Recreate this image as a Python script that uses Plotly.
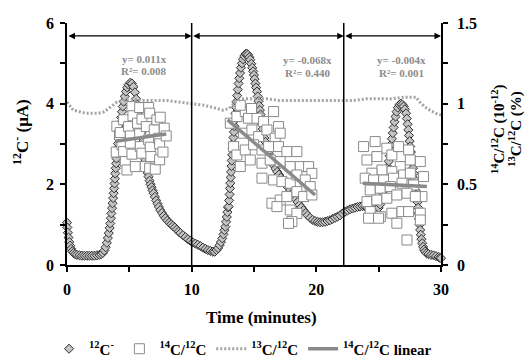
import plotly.graph_objects as go

# ---------------- data ----------------
# 12C- beam current (uA), left axis
c12_time = [
    0.00, 0.03, 0.07, 0.12, 0.18, 0.25, 0.33, 0.42, 0.52, 0.65, 0.80, 1.00, 1.20, 1.40, 1.60, 1.80,
    2.00, 2.20, 2.40, 2.60, 2.75, 2.88, 3.00, 3.10, 3.20, 3.28, 3.35, 3.42, 3.47, 3.52, 3.56, 3.61,
    3.65, 3.70, 3.74, 3.78, 3.81, 3.84, 3.87, 3.91, 3.94, 3.97, 4.01, 4.05, 4.09, 4.14, 4.18, 4.22,
    4.27, 4.34, 4.41, 4.47, 4.54, 4.63, 4.73, 4.83, 4.94, 5.08, 5.20, 5.33, 5.45, 5.55, 5.64, 5.74,
    5.80, 5.86, 5.91, 5.96, 6.01, 6.07, 6.13, 6.19, 6.24, 6.28, 6.35, 6.42, 6.48, 6.54, 6.62, 6.70,
    6.78, 6.86, 6.95, 7.05, 7.15, 7.26, 7.37, 7.48, 7.62, 7.76, 7.90, 8.05, 8.20, 8.35, 8.50, 8.65,
    8.80, 8.95, 9.10, 9.30, 9.50, 9.70, 9.90, 10.10, 10.30, 10.50, 10.70, 10.90, 11.10, 11.30, 11.50, 11.70,
    11.85, 12.00, 12.12, 12.24, 12.35, 12.45, 12.55, 12.63, 12.70, 12.76, 12.82, 12.87, 12.92, 12.96, 13.00, 13.04,
    13.07, 13.10, 13.13, 13.16, 13.19, 13.22, 13.25, 13.28, 13.31, 13.35, 13.39, 13.43, 13.47, 13.51, 13.55, 13.60,
    13.65, 13.70, 13.76, 13.82, 13.88, 13.95, 14.03, 14.12, 14.22, 14.32, 14.42, 14.52, 14.62, 14.70, 14.78, 14.86,
    14.93, 14.99, 15.05, 15.11, 15.17, 15.24, 15.30, 15.36, 15.42, 15.47, 15.53, 15.58, 15.64, 15.70, 15.77, 15.84,
    15.92, 16.00, 16.10, 16.20, 16.32, 16.45, 16.58, 16.72, 16.86, 17.00, 17.15, 17.30, 17.45, 17.60, 17.75, 17.90,
    18.05, 18.20, 18.35, 18.50, 18.65, 18.80, 18.97, 19.15, 19.30, 19.50, 19.70, 19.90, 20.10, 20.30, 20.50, 20.70,
    20.90, 21.10, 21.30, 21.50, 21.70, 21.90, 22.10, 22.30, 22.50, 22.70, 22.90, 23.10, 23.30, 23.50, 23.70, 23.90,
    24.10, 24.30, 24.50, 24.70, 24.85, 25.00, 25.12, 25.24, 25.36, 25.47, 25.57, 25.66, 25.74, 25.81, 25.88, 25.94,
    26.00, 26.06, 26.13, 26.20, 26.27, 26.35, 26.44, 26.54, 26.66, 26.78, 26.90, 27.00, 27.10, 27.20, 27.26, 27.32,
    27.38, 27.43, 27.48, 27.53, 27.59, 27.64, 27.70, 27.75, 27.80, 27.86, 27.91, 27.96, 28.01, 28.07, 28.12, 28.16,
    28.20, 28.24, 28.29, 28.33, 28.38, 28.43, 28.49, 28.56, 28.64, 28.73, 28.85, 29.00, 29.20, 29.40, 29.60, 29.80,
    29.92, 30.00,
]
c12_current = [
    1.05, 0.93, 0.80, 0.68, 0.57, 0.48, 0.40, 0.34, 0.30, 0.27, 0.25, 0.24, 0.23, 0.23, 0.23, 0.23,
    0.23, 0.23, 0.24, 0.25, 0.27, 0.30, 0.36, 0.44, 0.55, 0.67, 0.79, 0.92, 1.03, 1.16, 1.28, 1.41,
    1.53, 1.66, 1.78, 1.90, 2.02, 2.14, 2.27, 2.40, 2.52, 2.64, 2.77, 2.89, 3.01, 3.14, 3.26, 3.39,
    3.52, 3.66, 3.80, 3.93, 4.05, 4.18, 4.30, 4.40, 4.47, 4.52, 4.50, 4.42, 4.28, 4.12, 3.98, 3.85,
    3.70, 3.55, 3.41, 3.28, 3.18, 3.05, 2.92, 2.80, 2.70, 2.61, 2.49, 2.38, 2.28, 2.19, 2.09, 2.00,
    1.93, 1.85, 1.78, 1.69, 1.60, 1.52, 1.44, 1.36, 1.29, 1.22, 1.16, 1.10, 1.05, 1.01, 0.97, 0.93,
    0.88, 0.83, 0.79, 0.74, 0.69, 0.64, 0.60, 0.56, 0.53, 0.50, 0.47, 0.43, 0.40, 0.37, 0.35, 0.33,
    0.33, 0.37, 0.42, 0.49, 0.57, 0.66, 0.76, 0.86, 0.95, 1.07, 1.19, 1.31, 1.43, 1.45, 1.60, 1.75,
    1.90, 2.03, 2.17, 2.31, 2.45, 2.59, 2.73, 2.88, 3.02, 3.16, 3.30, 3.44, 3.59, 3.76, 3.91, 4.05,
    4.20, 4.35, 4.50, 4.63, 4.76, 4.89, 5.00, 5.10, 5.18, 5.23, 5.24, 5.21, 5.15, 5.09, 4.99, 4.89,
    4.80, 4.71, 4.61, 4.50, 4.40, 4.30, 4.18, 4.06, 3.95, 3.84, 3.73, 3.61, 3.49, 3.37, 3.26, 3.15,
    3.05, 2.96, 2.85, 2.76, 2.66, 2.56, 2.47, 2.39, 2.31, 2.24, 2.17, 2.10, 2.04, 1.98, 1.92, 1.86,
    1.78, 1.70, 1.63, 1.56, 1.49, 1.43, 1.36, 1.29, 1.23, 1.17, 1.12, 1.09, 1.07, 1.06, 1.06, 1.07,
    1.09, 1.11, 1.14, 1.17, 1.20, 1.23, 1.28, 1.32, 1.35, 1.38, 1.40, 1.42, 1.44, 1.45, 1.46, 1.45,
    1.42, 1.39, 1.37, 1.37, 1.38, 1.42, 1.50, 1.62, 1.77, 1.94, 2.11, 2.28, 2.43, 2.57, 2.71, 2.85,
    2.99, 3.13, 3.27, 3.41, 3.55, 3.68, 3.80, 3.90, 3.97, 4.00, 3.98, 3.93, 3.86, 3.76, 3.63, 3.49,
    3.35, 3.21, 3.07, 2.94, 2.80, 2.66, 2.53, 2.40, 2.27, 2.13, 1.99, 1.85, 1.75, 1.70, 1.56, 1.42,
    1.28, 1.14, 1.00, 0.87, 0.75, 0.64, 0.54, 0.45, 0.38, 0.33, 0.29, 0.27, 0.25, 0.24, 0.22, 0.20,
    0.18, 0.17,
]

# 14C/12C ratio (1e-12), right axis
c14_time = [
    # 375 C
    3.95, 4.00, 4.22, 4.27, 4.41, 4.54, 4.54, 4.68, 4.81, 4.94, 5.08, 5.08, 5.21, 5.21, 5.29, 5.48,
    5.66, 5.83, 5.83, 5.88, 6.01, 6.01, 6.28, 6.36, 6.55, 6.55, 6.63, 6.63, 6.68, 6.73, 7.00, 7.08,
    7.21, 7.35, 7.43, 7.43, 7.48, 7.70, 7.80, 7.96,
    # 475 C
    13.10, 13.63, 14.30, 14.56, 15.24, 15.77, 16.57, 16.97, 13.36, 14.16, 14.83, 15.37, 16.04, 16.70, 17.10, 13.63,
    14.30, 14.97, 15.64, 16.17, 16.97, 17.64, 18.44, 13.90, 14.70, 15.64, 16.30, 17.10, 17.91, 18.71, 19.38, 19.64,
    15.64, 16.57, 17.24, 17.91, 18.44, 19.11, 19.51, 16.44, 17.10, 17.64, 18.44, 18.98, 19.64, 16.84, 17.91, 18.44,
    18.04, 17.77, 13.90, 14.80,
    # 650 C
    23.79, 24.72, 24.06, 24.86, 25.66, 26.06, 26.60, 27.40, 27.54, 28.34, 26.73, 26.06, 25.26, 24.46, 23.92, 24.59,
    25.40, 26.19, 27.00, 27.54, 28.60, 24.32, 25.13, 25.93, 26.87, 27.80, 28.47, 24.06, 24.86, 25.66, 26.46, 27.27,
    27.94, 24.32, 25.13, 26.06, 26.87, 27.40, 28.34, 24.19, 24.99, 26.46, 28.34, 27.27,
]
c14_ratio = [
    0.700, 0.860, 0.806, 0.821, 0.745, 0.900, 0.703, 0.641, 0.589, 0.858, 0.800, 0.755, 0.982, 0.687, 0.925, 0.610,
    0.879, 0.976, 0.813, 0.734, 0.904, 0.693, 0.610, 0.858, 0.976, 0.776, 0.941, 0.600, 0.730, 0.672, 0.838, 0.594,
    0.900, 0.786, 0.751, 0.652, 0.916, 0.700, 0.848, 0.800,
    0.879, 0.920, 0.951, 0.910, 0.910, 0.889, 0.951, 0.858, 0.734, 0.817, 0.837, 0.796, 0.837, 0.786, 0.817, 0.682,
    0.713, 0.745, 0.713, 0.734, 0.734, 0.703, 0.703, 0.610, 0.651, 0.631, 0.651, 0.641, 0.610, 0.610, 0.610, 0.568,
    0.538, 0.527, 0.517, 0.507, 0.558, 0.527, 0.486, 0.383, 0.403, 0.424, 0.455, 0.424, 0.434, 0.362, 0.341, 0.320,
    0.269, 0.258, 0.990, 0.970,
    0.734, 0.765, 0.651, 0.672, 0.724, 0.682, 0.734, 0.713, 0.651, 0.641, 0.610, 0.579, 0.589, 0.569, 0.538, 0.527,
    0.527, 0.538, 0.558, 0.569, 0.548, 0.465, 0.476, 0.486, 0.507, 0.496, 0.424, 0.393, 0.403, 0.414, 0.434, 0.445,
    0.424, 0.331, 0.300, 0.321, 0.331, 0.331, 0.321, 0.290, 0.290, 0.259, 0.279, 0.155,
]

# 13C/12C ratio (%), right axis
c13_time = [0.0, 0.5, 1.0, 1.5, 2.0, 2.5, 3.0, 3.5, 4.0, 4.5, 5.0, 6.0, 7.0, 8.0, 9.0, 10.0,
            11.0, 11.5, 12.0, 12.5, 13.0, 13.5, 14.0, 15.0, 16.0, 17.0, 18.0, 19.0, 20.0, 21.0,
            22.0, 23.0, 24.0, 25.0, 26.0, 27.0, 28.0, 28.3, 28.7, 29.1, 29.6, 30.0]
c13_ratio = [1.01, 0.96, 0.95, 0.94, 0.94, 0.94, 0.95, 0.98, 1.01, 1.02, 1.03, 1.02, 1.02, 1.02, 1.01, 1.00,
             0.99, 0.98, 0.97, 0.96, 0.97, 1.01, 1.03, 1.03, 1.03, 1.02, 1.02, 1.02, 1.02, 1.02,
             1.02, 1.02, 1.03, 1.03, 1.03, 1.04, 1.04, 1.01, 0.98, 0.96, 0.94, 0.93]

# Linear fits of 14C/12C for each temperature step (end points)
fit_time = [[3.90, 7.96], [12.88, 19.90], [23.73, 28.87]]
fit_ratio = [[0.767, 0.812], [0.900, 0.434], [0.507, 0.486]]
fit_equation = ["y= 0.011x", "y= -0.068x", "y= -0.004x"]
fit_r2 = ["R²= 0.008", "R²= 0.440", "R²= 0.001"]

# Temperature steps
step_bounds = [0, 10, 22.2, 30]
step_labels = ["375 ºC, O<sub>2</sub>", "475 ºC, O<sub>2</sub>", "650 ºC, O<sub>2</sub>"]

# ---------------- figure ----------------
FONT = "Liberation Serif, Times New Roman, serif"
fig = go.Figure()

fig.add_trace(go.Scatter(
    x=c12_time, y=c12_current, mode="markers", name="<sup>12</sup>C<sup>-</sup>",
    marker=dict(symbol="diamond", size=7, color="#c4c4c4", line=dict(color="#303030", width=1)),
    cliponaxis=False,
))
fig.add_trace(go.Scatter(
    x=c14_time, y=c14_ratio, mode="markers", name="<sup>14</sup>C/<sup>12</sup>C", yaxis="y2",
    marker=dict(symbol="square", size=10, color="white", line=dict(color="#8a8a8a", width=1)),
))
fig.add_trace(go.Scatter(
    x=c13_time, y=c13_ratio, mode="lines", name="<sup>13</sup>C/<sup>12</sup>C", yaxis="y2",
    line=dict(color="#a3a3a3", width=3, dash="2px,2px"),
))
fx, fy = [], []
for ts, rs in zip(fit_time, fit_ratio):
    fx += ts + [None]
    fy += rs + [None]
fig.add_trace(go.Scatter(
    x=fx, y=fy, mode="lines", name="<sup>14</sup>C/<sup>12</sup>C linear", yaxis="y2",
    line=dict(color="#8a8a8a", width=3.5),
))

shapes = []
for b in step_bounds[1:-1]:
    shapes.append(dict(type="line", xref="x", yref="y", x0=b, x1=b, y0=0, y1=6.03,
                       line=dict(color="black", width=1.5)))

annotations = []
arrow_y = 5.68
for i in range(len(step_labels)):
    a, b = step_bounds[i], step_bounds[i + 1]
    annotations.append(dict(x=b, y=arrow_y, ax=a, ay=arrow_y, xref="x", yref="y", axref="x", ayref="y",
                            text="", showarrow=True, arrowhead=2, arrowsize=1, arrowwidth=1.3,
                            arrowside="end+start", arrowcolor="black", standoff=0, startstandoff=0))
label_x = [4.8, 15.6, 26.1]
for lx, lab in zip(label_x, step_labels):
    annotations.append(dict(x=lx, y=6.03, xref="x", yref="y", text=lab, showarrow=False,
                            font=dict(family=FONT, size=14, color="black", weight="bold"),
                            yanchor="middle", xanchor="center"))

eq_pos = [(6.2, 5.11, 4.80), (19.3, 5.08, 4.76), (26.85, 5.08, 4.76)]
for (ex, ey1, ey2), eq, r2 in zip(eq_pos, fit_equation, fit_r2):
    for yy, tt in ((ey1, eq), (ey2, r2)):
        annotations.append(dict(x=ex, y=yy, xref="x", yref="y", text=tt, showarrow=False,
                                font=dict(family=FONT, size=11, color="#8c8c8c", weight="bold"),
                                xanchor="center", yanchor="middle"))

# axis titles
annotations.append(dict(x=-0.123, y=0.55, xref="paper", yref="paper",
                        text="<sup>12</sup>C<sup>-</sup> (μA)", textangle=-90, showarrow=False,
                        font=dict(family=FONT, size=17, color="black", weight="bold"),
                        xanchor="center", yanchor="middle"))
annotations.append(dict(x=1.155, y=0.562, xref="paper", yref="paper",
                        text="<sup>14</sup>C/<sup>12</sup>C (10<sup>-12</sup>)", textangle=-90, showarrow=False,
                        font=dict(family=FONT, size=15, color="black", weight="bold"),
                        xanchor="center", yanchor="middle"))
annotations.append(dict(x=1.20, y=0.562, xref="paper", yref="paper",
                        text="<sup>13</sup>C/<sup>12</sup>C (%)", textangle=-90, showarrow=False,
                        font=dict(family=FONT, size=15, color="black", weight="bold"),
                        xanchor="center", yanchor="middle"))
annotations.append(dict(x=0.52, y=-0.219, xref="paper", yref="paper",
                        text="Time (minutes)", showarrow=False,
                        font=dict(family=FONT, size=17, color="black", weight="bold"),
                        xanchor="center", yanchor="middle"))

axis_common = dict(showline=True, linecolor="black", linewidth=1.5, ticks="outside", ticklen=5,
                   tickwidth=1.5, tickcolor="black", showgrid=False, zeroline=False,
                   tickfont=dict(family=FONT, size=16, color="black", weight="bold"))

fig.update_layout(
    width=531, height=359,
    margin=dict(l=67, r=90, t=23, b=94, autoexpand=False),
    paper_bgcolor="white", plot_bgcolor="white",
    showlegend=True,
    legend=dict(orientation="h", x=-0.048, y=-0.347, xanchor="left", yanchor="middle",
                font=dict(family=FONT, size=15, color="black", weight="bold"),
                bgcolor="rgba(0,0,0,0)", itemwidth=30, tracegroupgap=0),
    xaxis=dict(range=[0, 30], tickvals=[0, 10, 20, 30], minor=dict(dtick=5, ticks="outside", ticklen=5,
               tickwidth=1.5, tickcolor="black"), ticklabelstandoff=4, **axis_common),
    yaxis=dict(range=[0, 6], tickvals=[0, 2, 4, 6], minor=dict(dtick=1, ticks="outside", ticklen=5,
               tickwidth=1.5, tickcolor="black"), ticklabelstandoff=3, **axis_common),
    yaxis2=dict(range=[0, 1.5], tickvals=[0, 0.5, 1, 1.5], overlaying="y", side="right",
                minor=dict(dtick=0.25, ticks="outside", ticklen=5, tickwidth=1.5, tickcolor="black"),
                ticklabelstandoff=6, **axis_common),
    shapes=shapes,
    annotations=annotations,
)

fig.write_html("out.html", config={"displayModeBar": False},
               post_script="document.body.style.margin='0px';")
